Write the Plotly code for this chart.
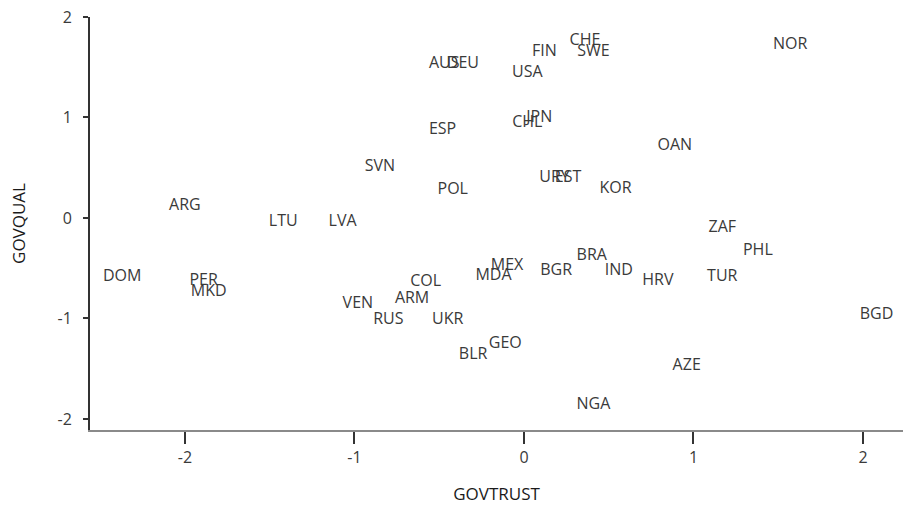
import plotly.graph_objects as go

countries = ["CHE", "SWE", "FIN", "NOR", "AUS", "DEU", "USA", "JPN", "CHL", "ESP",
             "OAN", "SVN", "POL", "URY", "EST", "KOR", "ARG", "LTU", "LVA", "ZAF",
             "PHL", "DOM", "PER", "MKD", "COL", "MEX", "MDA", "BGR", "BRA", "IND",
             "HRV", "TUR", "BGD", "VEN", "ARM", "RUS", "UKR", "GEO", "BLR", "AZE", "NGA"]
govtrust = [0.36, 0.41, 0.12, 1.57, -0.47, -0.36, 0.02, 0.09, 0.02, -0.48,
            0.89, -0.85, -0.42, 0.18, 0.26, 0.54, -2.00, -1.42, -1.07, 1.17,
            1.38, -2.37, -1.89, -1.86, -0.58, -0.10, -0.18, 0.19, 0.40, 0.56,
            0.79, 1.17, 2.08, -0.98, -0.66, -0.80, -0.45, -0.11, -0.30, 0.96, 0.41]
govqual = [1.76, 1.65, 1.65, 1.72, 1.53, 1.53, 1.44, 0.99, 0.95, 0.88,
           0.72, 0.51, 0.28, 0.40, 0.40, 0.29, 0.12, -0.04, -0.04, -0.10,
           -0.33, -0.59, -0.63, -0.74, -0.64, -0.48, -0.58, -0.53, -0.38, -0.53,
           -0.63, -0.59, -0.97, -0.86, -0.81, -1.02, -1.02, -1.25, -1.36, -1.47, -1.86]
tick_vals = [-2, -1, 0, 1, 2]
tick_text = ["-2", "-1", "0", "1", "2"]

FONT = "Open Sans"

fig = go.Figure(go.Scatter(
    x=govtrust, y=govqual, text=countries, mode="text",
    textposition="middle center",
    textfont=dict(family=FONT, size=16, color="#3a3a3a"),
    hoverinfo="text",
))

fig.update_layout(
    width=903, height=505,
    margin=dict(l=90, r=0, t=17, b=75),
    paper_bgcolor="white", plot_bgcolor="white",
    showlegend=False,
    font=dict(family=FONT, color="#3a3a3a"),
)
fig.update_xaxes(
    range=[-2.56, 2.236], tickvals=tick_vals, ticktext=tick_text,
    showgrid=False, zeroline=False,
    showline=True, linecolor="#8a8a8a", linewidth=2,
    ticks="outside", ticklen=12, tickwidth=2, tickcolor="#333333",
    tickfont=dict(family=FONT, size=16, color="#3a3a3a"),
    title=dict(text="GOVTRUST", font=dict(family=FONT, size=17, color="#1a1a1a"), standoff=22),
    automargin=False,
)
fig.update_yaxes(
    range=[-2.11, 2.0], tickvals=tick_vals, ticktext=tick_text,
    showgrid=False, zeroline=False,
    showline=True, linecolor="#333333", linewidth=2,
    ticks="outside", ticklen=5, tickwidth=1.5, tickcolor="#333333",
    ticklabelstandoff=8,
    tickfont=dict(family=FONT, size=16, color="#3a3a3a"),
    title=dict(text="GOVQUAL", font=dict(family=FONT, size=17, color="#1a1a1a"), standoff=28),
    automargin=False,
)

fig.write_html(
    "out.html",
    config={"displayModeBar": False},
    post_script="document.body.style.margin='0';document.documentElement.style.overflow='hidden';document.body.style.overflow='hidden';",
)
